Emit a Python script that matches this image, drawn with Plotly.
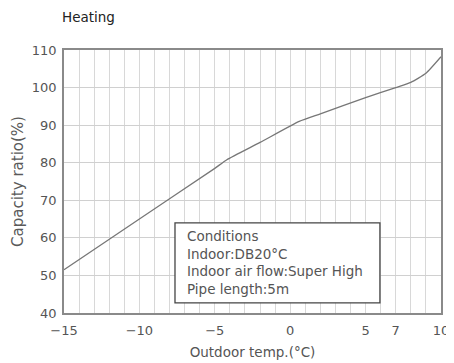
import plotly.graph_objects as go

# outdoor temperature (deg C) and capacity ratio (%)
temp = [-15, -10, -5, -4.2, -2, 0.6, 2, 5, 7, 8, 9, 10]
capacity = [51.5, 65, 78.5, 80.8, 85.4, 91, 93, 97.3, 100, 101.4, 103.8, 108.2]

x_labels = {-15: "\u221215", -10: "\u221210", -5: "\u22125", 0: "0", 5: "5", 7: "7", 10: "10"}
y_ticks = [40, 50, 60, 70, 80, 90, 100, 110]

conditions = ["Conditions", "Indoor:DB20\u00b0C",
              "Indoor air flow:Super High", "Pipe length:5m"]

FONT = "DejaVu Sans, Liberation Sans, sans-serif"
GREY = "#555555"

# one vertical grid line per degree, labels only on a few of them
x_grid = list(range(-15, 11))
x_text = [x_labels.get(v, "") for v in x_grid]

fig = go.Figure()
fig.add_trace(go.Scatter(
    x=temp, y=capacity, mode="lines",
    line=dict(color="#777777", width=1.3, shape="spline", smoothing=0.5),
    showlegend=False, hoverinfo="skip",
))

# page body has an 8px default margin, so the figure is a bit smaller than the window
fig.update_layout(
    width=446, height=355,
    margin=dict(l=56, r=13, t=42, b=50, autoexpand=False),
    paper_bgcolor="white", plot_bgcolor="white",
    font=dict(family=FONT, color=GREY, size=13),
)
fig.add_annotation(text="Heating", xref="paper", yref="paper",
                   x=0, y=1.0, xshift=-4, yshift=33, xanchor="left", yanchor="middle",
                   showarrow=False, font=dict(size=13.5, color="#222222"))

fig.update_xaxes(
    range=[-15, 10], tickvals=x_grid, ticktext=x_text, automargin=False,
    showgrid=True, gridcolor="#d8d8d8", gridwidth=1,
    showline=True, linecolor="#8a8a8a", linewidth=1.5, mirror=True,
    zeroline=False, ticks="outside", ticklen=5, tickcolor="rgba(0,0,0,0)",
    tickfont=dict(size=13, color=GREY),
    title=dict(text="Outdoor temp.(\u00b0C)", font=dict(size=13.5, color=GREY), standoff=10),
)
fig.update_yaxes(
    range=[40, 110], tickvals=y_ticks, automargin=False,
    showgrid=True, gridcolor="#d0d0d0", gridwidth=1,
    showline=True, linecolor="#8a8a8a", linewidth=1.5, mirror=True,
    zeroline=False, ticks="outside", ticklen=3, tickcolor="rgba(0,0,0,0)",
    tickfont=dict(size=13, color=GREY),
    title=dict(text="Capacity ratio(%)", font=dict(size=15, color="#5a5a5a"), standoff=5),
)

# conditions box
fig.add_shape(type="rect", xref="x", yref="y", x0=-7.64, x1=5.95, y0=42.7, y1=64.0,
              line=dict(color="#444444", width=1.3), fillcolor="white", layer="above")
fig.add_annotation(text="<br>".join(conditions), xref="x", yref="y",
                   x=-6.95, y=64.0, xanchor="left", yanchor="top", align="left",
                   showarrow=False, yshift=-3,
                   font=dict(size=13.5, color=GREY))

fig.write_html("out.html")
